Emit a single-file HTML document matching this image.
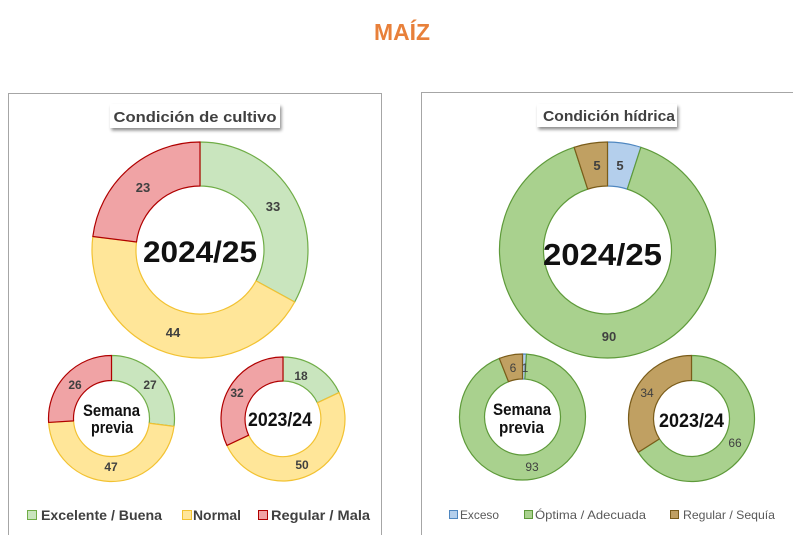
<!DOCTYPE html>
<html>
<head>
<meta charset="utf-8">
<style>
html,body{margin:0;padding:0;background:#fff;}
svg{display:block;}
text{font-family:"Liberation Sans",sans-serif;}
</style>
</head>
<body>
<svg width="793" height="535" viewBox="0 0 793 535" xmlns="http://www.w3.org/2000/svg">
<defs>
<filter id="sh" x="-10%" y="-30%" width="130%" height="180%">
<feGaussianBlur in="SourceAlpha" stdDeviation="1.5"/>
<feOffset dx="1.5" dy="2.5" result="o"/>
<feComponentTransfer><feFuncA type="linear" slope="0.45"/></feComponentTransfer>
<feMerge><feMergeNode/><feMergeNode in="SourceGraphic"/></feMerge>
</filter>
</defs>
<rect width="793" height="535" fill="#fff"/>

<!-- Main title -->
<text x="402" y="40" text-anchor="middle" font-size="23" font-weight="bold" fill="#e8803a" textLength="56" lengthAdjust="spacingAndGlyphs">MAÍZ</text>

<!-- Panels -->
<rect x="8.5" y="93.5" width="373" height="460" fill="#fff" stroke="#a6a6a6" stroke-width="1"/>
<rect x="421.5" y="92.5" width="400" height="460" fill="#fff" stroke="#a6a6a6" stroke-width="1"/>

<!-- Panel titles -->
<rect x="110" y="104" width="170" height="24" fill="#fff" filter="url(#sh)"/>
<text x="195" y="122" text-anchor="middle" font-size="15" font-weight="bold" fill="#404040" textLength="163" lengthAdjust="spacingAndGlyphs">Condición de cultivo</text>
<rect x="537" y="104" width="140" height="23" fill="#fff" filter="url(#sh)"/>
<text x="609" y="121" text-anchor="middle" font-size="15" font-weight="bold" fill="#404040" textLength="132" lengthAdjust="spacingAndGlyphs">Condición hídrica</text>

<!-- LEFT BIG DONUT -->
<g stroke-width="1.2" stroke-linejoin="round">
<path d="M200,142 A108,108 0 0 1 294.64,302.03 L256.08,280.84 A64,64 0 0 0 200,186 Z" fill="#c9e5be" stroke="#70ad47"/>
<path d="M294.64,302.03 A108,108 0 0 1 92.85,236.47 L136.51,241.98 A64,64 0 0 0 256.08,280.84 Z" fill="#ffe699" stroke="#f2c232"/>
<path d="M92.85,236.47 A108,108 0 0 1 200,142 L200,186 A64,64 0 0 0 136.51,241.98 Z" fill="#f0a3a5" stroke="#b00000"/>
</g>
<text x="200" y="262" text-anchor="middle" font-size="30" font-weight="bold" fill="#111" textLength="114" lengthAdjust="spacingAndGlyphs">2024/25</text>
<g font-size="13" font-weight="bold" fill="#404040" text-anchor="middle">
<text x="273" y="211">33</text>
<text x="173" y="337">44</text>
<text x="143" y="192">23</text>
</g>

<!-- LEFT SMALL: Semana previa -->
<g stroke-width="1.2" stroke-linejoin="round">
<path d="M111.5,355.5 A63,63 0 0 1 174,426.4 L149.2,423.26 A38,38 0 0 0 111.5,380.5 Z" fill="#c9e5be" stroke="#70ad47"/>
<path d="M174,426.4 A63,63 0 0 1 48.62,422.46 L73.57,420.89 A38,38 0 0 0 149.2,423.26 Z" fill="#ffe699" stroke="#f2c232"/>
<path d="M48.62,422.46 A63,63 0 0 1 111.5,355.5 L111.5,380.5 A38,38 0 0 0 73.57,420.89 Z" fill="#f0a3a5" stroke="#b00000"/>
</g>
<text x="111.5" y="416" text-anchor="middle" font-size="17" font-weight="bold" fill="#111" textLength="57" lengthAdjust="spacingAndGlyphs">Semana</text>
<text x="112" y="433" text-anchor="middle" font-size="17" font-weight="bold" fill="#111" textLength="42" lengthAdjust="spacingAndGlyphs">previa</text>
<g font-size="12" font-weight="bold" fill="#404040" text-anchor="middle">
<text x="150" y="389">27</text>
<text x="111" y="471">47</text>
<text x="75" y="389">26</text>
</g>

<!-- LEFT SMALL: 2023/24 -->
<g stroke-width="1.2" stroke-linejoin="round">
<path d="M283,357 A62,62 0 0 1 339.1,392.6 L317.38,402.82 A38,38 0 0 0 283,381 Z" fill="#c9e5be" stroke="#70ad47"/>
<path d="M339.1,392.6 A62,62 0 0 1 226.9,445.4 L248.62,435.18 A38,38 0 0 0 317.38,402.82 Z" fill="#ffe699" stroke="#f2c232"/>
<path d="M226.9,445.4 A62,62 0 0 1 283,357 L283,381 A38,38 0 0 0 248.62,435.18 Z" fill="#f0a3a5" stroke="#b00000"/>
</g>
<text x="280" y="426" text-anchor="middle" font-size="19" font-weight="bold" fill="#111" textLength="64" lengthAdjust="spacingAndGlyphs">2023/24</text>
<g font-size="12" font-weight="bold" fill="#404040" text-anchor="middle">
<text x="301" y="380">18</text>
<text x="302" y="469">50</text>
<text x="237" y="397">32</text>
</g>

<!-- Left legend -->
<rect x="27.5" y="510.5" width="9" height="9" fill="#c9e5be" stroke="#70ad47"/>
<text x="41" y="520" font-size="14" font-weight="bold" fill="#404040" textLength="121" lengthAdjust="spacingAndGlyphs">Excelente / Buena</text>
<rect x="182.5" y="510.5" width="9" height="9" fill="#ffe699" stroke="#f2c232"/>
<text x="193" y="520" font-size="14" font-weight="bold" fill="#404040" textLength="48" lengthAdjust="spacingAndGlyphs">Normal</text>
<rect x="258.5" y="510.5" width="9" height="9" fill="#f0a3a5" stroke="#b00000"/>
<text x="271" y="520" font-size="14" font-weight="bold" fill="#404040" textLength="99" lengthAdjust="spacingAndGlyphs">Regular / Mala</text>

<!-- RIGHT BIG DONUT -->
<g stroke-width="1.2" stroke-linejoin="round">
<path d="M607.5,142 A108,108 0 0 1 640.87,147.29 L627.28,189.13 A64,64 0 0 0 607.5,186 Z" fill="#b4cfec" stroke="#4f87c0"/>
<path d="M640.87,147.29 A108,108 0 1 1 574.13,147.29 L587.72,189.13 A64,64 0 1 0 627.28,189.13 Z" fill="#a9d18e" stroke="#5e9a3a"/>
<path d="M574.13,147.29 A108,108 0 0 1 607.5,142 L607.5,186 A64,64 0 0 0 587.72,189.13 Z" fill="#c0a062" stroke="#7a5c1a"/>
</g>
<text x="602.5" y="265" text-anchor="middle" font-size="31" font-weight="bold" fill="#111" textLength="119" lengthAdjust="spacingAndGlyphs">2024/25</text>
<g font-size="13" font-weight="bold" fill="#404040" text-anchor="middle">
<text x="597" y="170">5</text>
<text x="620" y="170">5</text>
<text x="609" y="341">90</text>
</g>

<!-- RIGHT SMALL: Semana previa -->
<g stroke-width="1.2" stroke-linejoin="round">
<path d="M522.5,354 A63,63 0 0 1 526.46,354.12 L524.89,379.07 A38,38 0 0 0 522.5,379 Z" fill="#b4cfec" stroke="#4f87c0"/>
<path d="M526.46,354.12 A63,63 0 1 1 499.31,358.42 L508.51,381.67 A38,38 0 1 0 524.89,379.07 Z" fill="#a9d18e" stroke="#5e9a3a"/>
<path d="M499.31,358.42 A63,63 0 0 1 522.5,354 L522.5,379 A38,38 0 0 0 508.51,381.67 Z" fill="#c0a062" stroke="#7a5c1a"/>
</g>
<text x="522" y="415" text-anchor="middle" font-size="17" font-weight="bold" fill="#111" textLength="58" lengthAdjust="spacingAndGlyphs">Semana</text>
<text x="521.5" y="433" text-anchor="middle" font-size="17" font-weight="bold" fill="#111" textLength="45" lengthAdjust="spacingAndGlyphs">previa</text>
<g font-size="12" fill="#404040" text-anchor="middle">
<text x="513" y="372">6</text>
<text x="525" y="372">1</text>
<text x="532" y="471">93</text>
</g>

<!-- RIGHT SMALL: 2023/24 -->
<g stroke-width="1.2" stroke-linejoin="round">
<path d="M691.5,355.5 A63,63 0 1 1 638.31,452.26 L659.42,438.86 A38,38 0 1 0 691.5,380.5 Z" fill="#a9d18e" stroke="#5e9a3a"/>
<path d="M638.31,452.26 A63,63 0 0 1 691.5,355.5 L691.5,380.5 A38,38 0 0 0 659.42,438.86 Z" fill="#c0a062" stroke="#7a5c1a"/>
</g>
<text x="691.5" y="427" text-anchor="middle" font-size="19" font-weight="bold" fill="#111" textLength="65" lengthAdjust="spacingAndGlyphs">2023/24</text>
<g font-size="12" fill="#404040" text-anchor="middle">
<text x="647" y="397">34</text>
<text x="735" y="447">66</text>
</g>

<!-- Right legend -->
<rect x="449.5" y="510.5" width="8" height="8" fill="#b4cfec" stroke="#4f87c0"/>
<text x="460" y="519" font-size="12" fill="#595959" textLength="39" lengthAdjust="spacingAndGlyphs">Exceso</text>
<rect x="524.5" y="510.5" width="8" height="8" fill="#a9d18e" stroke="#5e9a3a"/>
<text x="535" y="519" font-size="12" fill="#595959" textLength="111" lengthAdjust="spacingAndGlyphs">Óptima / Adecuada</text>
<rect x="670.5" y="510.5" width="8" height="8" fill="#c0a062" stroke="#7a5c1a"/>
<text x="683" y="519" font-size="12" fill="#595959" textLength="92" lengthAdjust="spacingAndGlyphs">Regular / Sequía</text>
</svg>
</body>
</html>
